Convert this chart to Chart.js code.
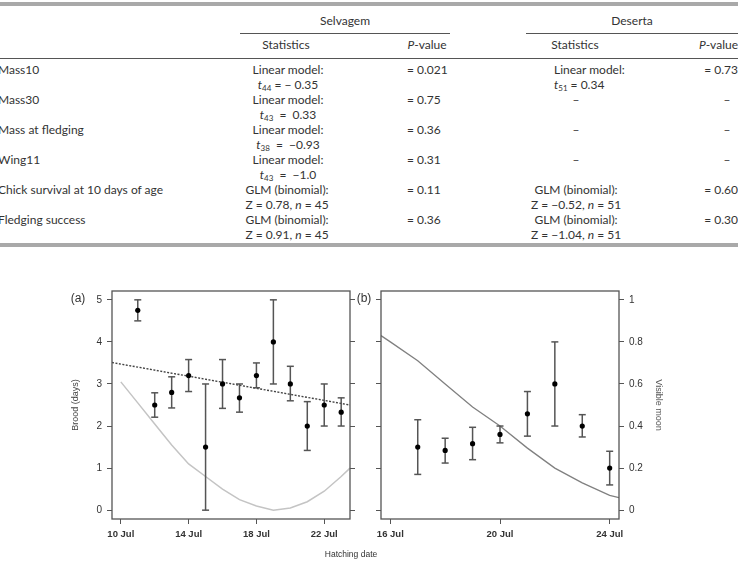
<!DOCTYPE html>
<html>
<head>
<meta charset="utf-8">
<title>Brood and visible moon</title>
<script src="https://cdn.jsdelivr.net/npm/chart.js@4.4.1/dist/chart.umd.min.js"></script>
<style>
  body { margin: 0; background: #fff; }
  #page { position: relative; width: 738px; height: 562px; overflow: hidden; color: #333;
          font-family: Lato, "Open Sans", sans-serif; }
  .tx { position: absolute; font-size: 12px; line-height: 15px; white-space: nowrap; }
  .mid { transform: translateX(-50%); text-align: center; }
  .end { right: 0; text-align: right; }
  .rule { position: absolute; height: 1px; background: #555; }
  .band { position: absolute; left: 0; width: 738px; height: 4px; background: #a9a9a9; }
  sub { font-size: 8px; line-height: 0; vertical-align: -2px; }
  .lab { position: absolute; font-family: "Liberation Sans", Arial, sans-serif; color: #333;
         white-space: nowrap; transform: translate(-50%, -50%); }
  canvas { position: absolute; }
</style>
</head>
<body>
<div id="page">
  <!-- table header -->
  <div class="band" style="top:2px"></div>
  <div class="tx mid" style="left:345px;top:13px">Selvagem</div>
  <div class="tx mid" style="left:632px;top:13px">Deserta</div>
  <div class="rule" style="left:240px;width:210px;top:33px"></div>
  <div class="rule" style="left:526px;width:212px;top:33px"></div>
  <div class="tx mid" style="left:286px;top:37px">Statistics</div>
  <div class="tx mid" style="left:427px;top:37px"><i>P</i>-value</div>
  <div class="tx mid" style="left:575px;top:37px">Statistics</div>
  <div class="tx end" style="top:37px"><i>P</i>-value</div>
  <div class="rule" style="left:0;width:738px;top:58px"></div>

  <!-- table rows -->
  <div class="tx" style="left:-2px;top:62px">Mass10</div>
  <div class="tx mid" style="left:288px;top:62px">Linear model:<br><i>t</i><sub>44</sub> = − 0.35</div>
  <div class="tx" style="left:407px;top:62px">= 0.021</div>
  <div class="tx" style="left:554px;top:62px">Linear model:<br><i>t</i><sub>51</sub> = 0.34</div>
  <div class="tx end" style="top:62px">= 0.73</div>

  <div class="tx" style="left:-2px;top:92px">Mass30</div>
  <div class="tx mid" style="left:288px;top:92px">Linear model:<br><i>t</i><sub>43</sub> &nbsp;= &nbsp;0.33</div>
  <div class="tx" style="left:407px;top:92px">= 0.75</div>
  <div class="tx mid" style="left:576px;top:92px">–</div>
  <div class="tx mid" style="left:727px;top:92px">–</div>

  <div class="tx" style="left:-2px;top:122px">Mass at fledging</div>
  <div class="tx mid" style="left:288px;top:122px">Linear model:<br><i>t</i><sub>38</sub> &nbsp;= &nbsp;−0.93</div>
  <div class="tx" style="left:407px;top:122px">= 0.36</div>
  <div class="tx mid" style="left:576px;top:122px">–</div>
  <div class="tx mid" style="left:727px;top:122px">–</div>

  <div class="tx" style="left:-2px;top:152px">Wing11</div>
  <div class="tx mid" style="left:288px;top:152px">Linear model:<br><i>t</i><sub>43</sub> &nbsp;= &nbsp;−1.0</div>
  <div class="tx" style="left:407px;top:152px">= 0.31</div>
  <div class="tx mid" style="left:576px;top:152px">–</div>
  <div class="tx mid" style="left:727px;top:152px">–</div>

  <div class="tx" style="left:-2px;top:182px">Chick survival at 10 days of age</div>
  <div class="tx mid" style="left:287px;top:182px">GLM (binomial):<br>Z = 0.78, <i>n</i> = 45</div>
  <div class="tx" style="left:407px;top:182px">= 0.11</div>
  <div class="tx mid" style="left:576px;top:182px">GLM (binomial):<br>Z = −0.52, <i>n</i> = 51</div>
  <div class="tx end" style="top:182px">= 0.60</div>

  <div class="tx" style="left:-2px;top:212px">Fledging success</div>
  <div class="tx mid" style="left:287px;top:212px">GLM (binomial):<br>Z = 0.91, <i>n</i> = 45</div>
  <div class="tx" style="left:407px;top:212px">= 0.36</div>
  <div class="tx mid" style="left:576px;top:212px">GLM (binomial):<br>Z = −1.04, <i>n</i> = 51</div>
  <div class="tx end" style="top:212px">= 0.30</div>
  <div class="band" style="top:243px"></div>

  <!-- charts -->
  <canvas id="chartA" width="370" height="305" style="left:0;top:255px"></canvas>
  <canvas id="chartB" width="373" height="305" style="left:365px;top:255px"></canvas>
  <div class="lab" style="left:78px;top:298px;font-size:12px">(a)</div>
  <div class="lab" style="left:364px;top:298px;font-size:12px">(b)</div>
  <div class="lab" style="left:351px;top:554px;font-size:8.5px">Hatching date</div>
</div>

<script>
// Panel (a): Selvagem, brood (days) by hatching date in July
const daysA  = [11, 12, 13, 14, 15, 16, 17, 18, 19, 20, 21, 22, 23];
const broodA = [4.75, 2.5, 2.8, 3.2, 1.5, 3.0, 2.67, 3.2, 4.0, 3.0, 2.0, 2.5, 2.33];
const lowA   = [4.5, 2.21, 2.43, 2.82, 0.0, 2.42, 2.33, 2.91, 3.0, 2.6, 1.42, 2.0, 2.0];
const highA  = [5.0, 2.79, 3.17, 3.58, 3.0, 3.58, 3.0, 3.5, 5.0, 3.42, 2.58, 3.0, 2.67];
const fitDaysA  = [9.48, 23.52];
const fitBroodA = [3.51, 2.5];
const moonDaysA = [10, 11, 12, 13, 14, 15, 16, 17, 18, 19, 20, 21, 22, 23, 23.52];
const moonA     = [0.61, 0.51, 0.41, 0.31, 0.22, 0.16, 0.10, 0.05, 0.02, 0.0, 0.01, 0.04, 0.09, 0.16, 0.2];
const xTicksA   = [10, 14, 18, 22];

// Panel (b): Deserta
const daysB  = [17, 18, 19, 20, 21, 22, 23, 24];
const broodB = [1.5, 1.42, 1.58, 1.8, 2.29, 3.0, 2.0, 1.0];
const lowB   = [0.85, 1.12, 1.2, 1.6, 1.76, 2.0, 1.74, 0.6];
const highB  = [2.15, 1.71, 1.97, 2.0, 2.82, 4.0, 2.27, 1.4];
const moonDaysB = [15.66, 16, 17, 18, 19, 20, 21, 22, 23, 24, 24.34];
const moonB     = [0.83, 0.80, 0.71, 0.60, 0.49, 0.40, 0.295, 0.20, 0.13, 0.07, 0.06];
const xTicksB   = [16, 20, 24];

const broodTicks = [0, 1, 2, 3, 4, 5];
const moonTicks  = [0, 0.2, 0.4, 0.6, 0.8, 1];

const axisFont = "'Liberation Sans', Arial, sans-serif";
const frameColor = '#555';

// frame around the plot region, like R's box()
const boxPlugin = {
  id: 'box',
  afterDatasetsDraw(chart) {
    const a = chart.chartArea;
    const ctx = chart.ctx;
    ctx.save();
    ctx.strokeStyle = frameColor;
    ctx.lineWidth = 1.3;
    ctx.strokeRect(a.left, a.top, a.right - a.left, a.bottom - a.top);
    ctx.restore();
  }
};

function pairs(xs, ys) {
  return xs.map((x, i) => ({ x: x, y: ys[i] }));
}

// whisker segments with caps, broken by null gaps
function errorBars(days, lo, hi) {
  const pts = [];
  days.forEach((d, i) => {
    pts.push({ x: d, y: lo[i] }, { x: d, y: hi[i] }, { x: d, y: null });
  });
  return pts;
}

function fixedTicks(list) {
  return function(scale) { scale.ticks = list.map(v => ({ value: v })); };
}

function tickGrid() {
  return { drawOnChartArea: false, drawTicks: true, tickLength: 5, color: frameColor, lineWidth: 1 };
}

function xScale(min, max, ticks) {
  return {
    type: 'linear', min: min, max: max,
    afterBuildTicks: fixedTicks(ticks),
    afterFit: s => { s.height = 41; },
    grid: tickGrid(),
    border: { display: false },
    ticks: {
      callback: v => v + ' Jul',
      font: { family: "'Liberation Sans Narrow', " + axisFont, size: 9.5, weight: 'bold' },
      color: '#333', padding: 5, maxRotation: 0, autoSkip: false
    }
  };
}

function pointSet(days, brood) {
  return {
    type: 'scatter', data: pairs(days, brood), yAxisID: 'y',
    pointRadius: 2.6, pointBackgroundColor: '#000', pointBorderWidth: 0, pointBorderColor: '#000'
  };
}

function barSet(days, lo, hi) {
  return {
    type: 'line', data: errorBars(days, lo, hi), yAxisID: 'y',
    borderColor: '#555', borderWidth: 1.5, spanGaps: false, fill: false,
    pointStyle: 'line', pointRadius: 3.5, pointBorderWidth: 1.5, pointBorderColor: '#555'
  };
}

const common = {
  responsive: false,
  animation: false,
  plugins: { legend: { display: false }, tooltip: { enabled: false } }
};

// Panel (a)
new Chart(document.getElementById('chartA'), {
  type: 'scatter',
  data: {
    datasets: [
      pointSet(daysA, broodA),
      barSet(daysA, lowA, highA),
      {
        type: 'line', data: pairs(fitDaysA, fitBroodA), yAxisID: 'y',
        borderColor: '#444', borderWidth: 1.4, borderDash: [2, 1.5], pointRadius: 0, fill: false
      },
      {
        type: 'line', data: pairs(moonDaysA, moonA), yAxisID: 'y2',
        borderColor: '#c4c4c4', borderWidth: 1.5, pointRadius: 0, fill: false
      }
    ]
  },
  options: Object.assign({}, common, {
    layout: { padding: { left: 0, top: 36, right: 15, bottom: 0 } },
    scales: {
      x: xScale(9.48, 23.52, xTicksA),
      y: {
        position: 'left', min: -0.21, max: 5.21,
        afterBuildTicks: fixedTicks(broodTicks),
        afterFit: s => { s.width = 112; },
        grid: tickGrid(), border: { display: false },
        ticks: { font: { family: axisFont, size: 10 }, color: '#333', padding: 5 },
        title: { display: true, text: 'Brood (days)', color: '#444',
                 font: { family: axisFont, size: 9 }, padding: { top: 70.6, bottom: 0 } }
      },
      y2: {
        position: 'right', min: -0.042, max: 1.042,
        afterBuildTicks: fixedTicks(moonTicks),
        afterFit: s => { s.width = 5; },
        grid: tickGrid(), border: { display: false },
        ticks: { display: false }
      }
    }
  }),
  plugins: [boxPlugin]
});

// Panel (b)
new Chart(document.getElementById('chartB'), {
  type: 'scatter',
  data: {
    datasets: [
      pointSet(daysB, broodB),
      barSet(daysB, lowB, highB),
      {
        type: 'line', data: pairs(moonDaysB, moonB), yAxisID: 'y2',
        borderColor: '#808080', borderWidth: 1.3, pointRadius: 0, fill: false
      }
    ]
  },
  options: Object.assign({}, common, {
    layout: { padding: { left: 0, top: 36, right: 0, bottom: 0 } },
    scales: {
      x: xScale(15.66, 24.34, xTicksB),
      y: {
        position: 'left', min: -0.21, max: 5.21,
        afterBuildTicks: fixedTicks(broodTicks),
        afterFit: s => { s.width = 16; },
        grid: tickGrid(), border: { display: false },
        ticks: { display: false }
      },
      y2: {
        position: 'right', min: -0.042, max: 1.042,
        afterBuildTicks: fixedTicks(moonTicks),
        afterFit: s => { s.width = 119; },
        grid: tickGrid(), border: { display: false },
        ticks: { callback: v => String(v), font: { family: axisFont, size: 10 }, color: '#333', padding: 5 },
        title: { display: true, text: 'Visible moon', color: '#555',
                 font: { family: axisFont, size: 9 }, padding: { top: 74, bottom: 0 } }
      }
    }
  }),
  plugins: [boxPlugin]
});
</script>
</body>
</html>
